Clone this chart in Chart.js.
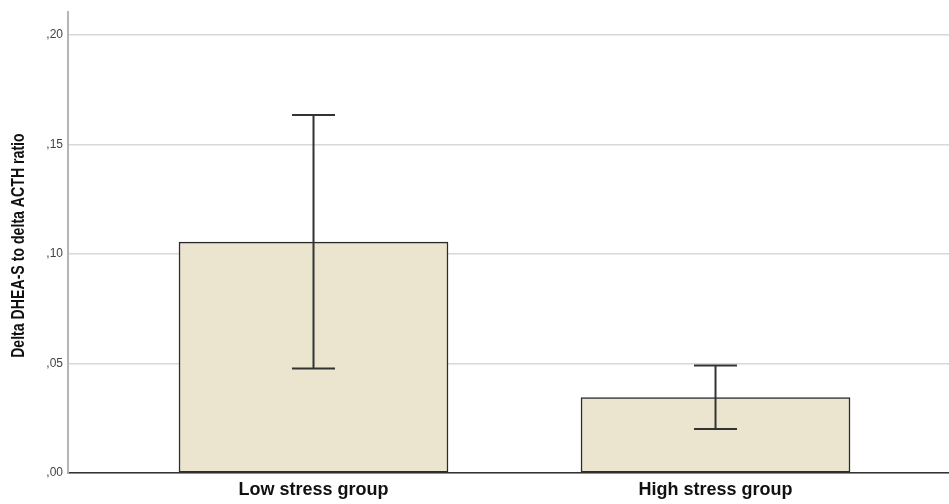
<!DOCTYPE html>
<html>
<head>
<meta charset="utf-8">
<script src="https://cdn.jsdelivr.net/npm/chart.js@4/dist/chart.umd.min.js"></script>
<style>
  html, body { margin: 0; padding: 0; background: #fff; }
  canvas { display: block; }
</style>
</head>
<body>
<canvas id="myChart" width="949" height="504"></canvas>
<script>
// data
const groups = ['Low stress group', 'High stress group'];
const means = [0.1055, 0.0345];
const errHigh = [0.1635, 0.0491];
const errLow = [0.0477, 0.0201];
const yTicks = [0, 0.05, 0.10, 0.15, 0.20];
const yTitle = 'Delta DHEA-S to delta ACTH ratio';

// error bars drawn on top of the bars
const errorBarPlugin = {
  id: 'errorBarPlugin',
  afterDatasetsDraw(chart) {
    const ctx = chart.ctx;
    const y = chart.scales.y;
    const meta = chart.getDatasetMeta(0);
    ctx.save();
    ctx.strokeStyle = '#333';
    ctx.lineWidth = 2;
    meta.data.forEach((bar, i) => {
      const x = bar.x;
      const top = y.getPixelForValue(errHigh[i]);
      const bot = y.getPixelForValue(errLow[i]);
      ctx.beginPath();
      ctx.moveTo(x, top);
      ctx.lineTo(x, bot);
      ctx.moveTo(x - 21.5, top);
      ctx.lineTo(x + 21.5, top);
      ctx.moveTo(x - 21.5, bot);
      ctx.lineTo(x + 21.5, bot);
      ctx.stroke();
    });
    ctx.restore();
  }
};

// narrow-looking y title (no condensed font installed, so squeeze it)
const yTitlePlugin = {
  id: 'yTitlePlugin',
  afterDraw(chart) {
    const ctx = chart.ctx;
    const area = chart.chartArea;
    ctx.save();
    ctx.translate(19, (area.top + area.bottom) / 2 + 3);
    ctx.rotate(-Math.PI / 2);
    ctx.scale(0.785, 1);
    ctx.font = 'bold 18px "Liberation Sans", Arial, sans-serif';
    ctx.fillStyle = '#111';
    ctx.textAlign = 'center';
    ctx.textBaseline = 'middle';
    ctx.fillText(yTitle, 0, 0);
    ctx.restore();
  }
};

const config = {
  type: 'bar',
  data: {
    datasets: [{
      data: means.map((v, i) => ({ x: i, y: v })),
      backgroundColor: '#ebe5d0',
      borderColor: '#2b2b2b',
      borderWidth: 1.5,
      borderSkipped: false,
      barThickness: 269
    }]
  },
  plugins: [errorBarPlugin, yTitlePlugin],
  options: {
    responsive: false,
    animation: false,
    devicePixelRatio: 1,
    layout: { padding: { top: 10, right: 0, left: 0, bottom: 0 } },
    plugins: {
      legend: { display: false },
      tooltip: { enabled: false }
    },
    scales: {
      x: {
        type: 'linear',
        offset: false,
        min: -0.6107,
        max: 1.5808,
        grid: { display: false, drawTicks: false },
        border: { display: true, color: '#333', width: 1.5 },
        afterBuildTicks: axis => { axis.ticks = groups.map((g, i) => ({ value: i })); },
        afterFit: axis => { axis.height = 31; },
        ticks: {
          autoSkip: false,
          maxRotation: 0,
          padding: 6,
          color: '#111',
          font: { family: 'Liberation Sans, Arial, sans-serif', size: 18, weight: 'bold' },
          callback: v => groups[v]
        }
      },
      y: {
        min: 0,
        max: 0.2105,
        grid: { color: '#d8d8d8', lineWidth: 1.5, drawTicks: false },
        border: { display: true, color: '#b5b5b5', width: 2 },
        afterBuildTicks: axis => { axis.ticks = yTicks.map(v => ({ value: v })); },
        afterFit: axis => { axis.width = 68; },
        ticks: {
          padding: 5,
          color: '#444',
          font: { family: 'Liberation Sans, Arial, sans-serif', size: 12 },
          callback: v => ',' + v.toFixed(2).split('.')[1]
        }
      }
    }
  }
};

const ctx = document.getElementById('myChart');
const myChart = new Chart(ctx, config);
</script>
</body>
</html>
